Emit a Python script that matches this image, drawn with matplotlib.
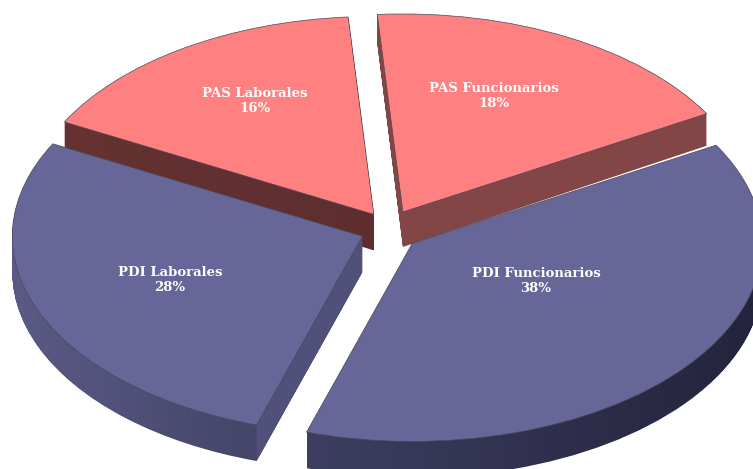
import numpy as np
import matplotlib
matplotlib.use("Agg")
import matplotlib.pyplot as plt
from matplotlib.colors import to_rgb
from matplotlib.path import Path

labels = ["PAS Funcionarios", "PDI Funcionarios", "PDI Laborales", "PAS Laborales"]
values = [17.9, 38.15, 27.85, 16.1]
pct_labels = ["18%", "38%", "28%", "16%"]
explode = [0.109, 0.10, 0.07, 0.10]
nudge_px = [0, 0, 0, 8]
top_colors = ["#FF8080", "#666699", "#666699", "#FF8080"]
side_left = ["#824646", "#3E3E60", "#5A5A85", "#663232"]
side_right = ["#824646", "#23233D", "#3C3C5E", "#5E2E2E"]
depth_far = [29, 36, 36, 27]
depth_near = [35, 36, 36, 36]
draw_order = [3, 0, 2, 1]

W, H = 753, 469
CX, CY, RX, RY = 385, 231, 350, 198

fig = plt.figure(figsize=(W / 100, H / 100), dpi=100)
ax = fig.add_axes([0, 0, 1, 1])
wedges, _ = ax.pie(
    values, explode=explode, startangle=94.2, counterclock=False,
    colors=top_colors, labeldistance=None,
    wedgeprops=dict(linewidth=0.5, edgecolor="#4a4a58"), frame=False, normalize=True)
ax.set_aspect("auto")
ax.axis("off")
for w, dx in zip(wedges, nudge_px):
    w.set_center((w.center[0] + dx / RX, w.center[1]))

grad = np.linspace(0, 1, 256)[None, :, None]
z = 1
for i in draw_order:
    w = wedges[i]
    base = w.get_path().transformed(w.get_patch_transform())
    ys = base.vertices[:, 1]
    y_hi, y_lo = ys.max(), w.center[1]
    span = max(y_hi - y_lo, 1e-6)
    n = int(max(depth_far[i], depth_near[i]))
    layers = []
    for k in range(1, n + 1):
        f = k / n
        v = base.vertices.copy()
        t = np.clip((v[:, 1] - y_lo) / span, 0, 1)
        v[:, 1] -= f * (depth_near[i] + (depth_far[i] - depth_near[i]) * t) / RY
        layers.append(Path(v, base.codes))
    clip = Path.make_compound_path(*layers)
    c0 = np.array(to_rgb(side_left[i]))
    c1 = np.array(to_rgb(side_right[i]))
    img = c0[None, None, :] * (1 - grad) + c1[None, None, :] * grad
    bb = clip.get_extents()
    im = ax.imshow(img, extent=[bb.x0, bb.x1, bb.y0, bb.y1], aspect="auto",
                   zorder=z, interpolation="bilinear")
    im.set_clip_path(clip, transform=ax.transData)
    if labels[i] == "PDI Laborales":
        th = np.deg2rad(w.theta2)
        cx, cy = w.center
        ex, ey = cx + w.r * np.cos(th), cy + w.r * np.sin(th)
        d = depth_near[i] / RY
        ax.fill([cx, ex, ex, cx], [cy, ey, ey - d, cy - d], color="#50507A",
                lw=0, zorder=z + 0.5)
    w.set_zorder(z + 1)
    z += 2
ax.set_xlim(-CX / RX, (W - CX) / RX)
ax.set_ylim(-(H - CY) / RY, CY / RY)

label_xy = [(494, 96), (536, 281), (170, 280), (255, 101)]
for i, (x, y) in enumerate(label_xy):
    ax.text((x - CX) / RX, (CY - y) / RY, f"{labels[i]}\n{pct_labels[i]}", color="white",
            family="DejaVu Serif", weight="bold", fontsize=9.5, ha="center", va="center",
            linespacing=1.2, zorder=20)

fig.savefig("out.png", dpi=100, facecolor="white")
